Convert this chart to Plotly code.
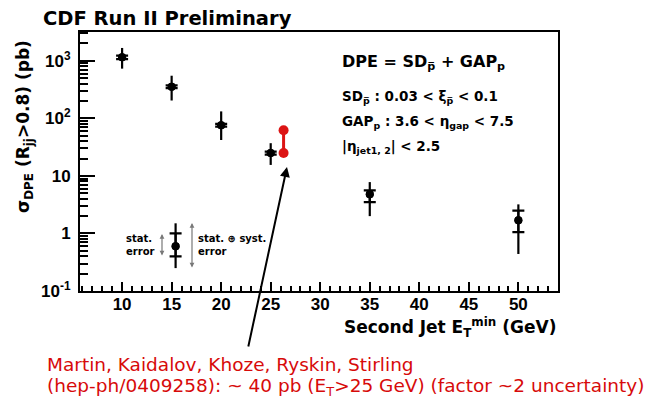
import plotly.graph_objects as go

# ---- data ----
et_min = [10, 15, 20, 25, 35, 50]
sigma = [1150, 355, 76, 25, 4.8, 1.7]
tot_hi = [1670, 550, 132, 37, 7.8, 3.2]
tot_lo = [730, 204, 42, 15.5, 2.0, 0.44]
stat_hi = [1230, 375, 80, 26.5, 5.6, 2.5]
stat_lo = [1070, 335, 72, 23.5, 3.5, 1.05]

theory_x = [26.3, 26.3]
theory_y = [25, 62]

legend_x = [15.4]
legend_y = [0.6]
legend_tot_hi = [1.5]
legend_tot_lo = [0.25]
legend_stat_hi = [1.0]
legend_stat_lo = [0.4]

xtick_vals = [10, 15, 20, 25, 30, 35, 40, 45, 50]
ytick_vals = [0.1, 1, 10, 100, 1000]
ytick_text = ["10<sup>-1</sup>", "1", "10", "10<sup>2</sup>", "10<sup>3</sup>"]


def up(v, hi):
    return [h - a for a, h in zip(v, hi)]


def dn(v, lo):
    return [a - l for a, l in zip(v, lo)]


fig = go.Figure()


def add_points(xs, ys, hi, lo, shi, slo):
    fig.add_trace(go.Scatter(
        x=xs, y=ys, mode="markers",
        marker=dict(color="black", size=8),
        error_y=dict(type="data", symmetric=False, array=up(ys, hi), arrayminus=dn(ys, lo),
                     color="black", thickness=2.2, width=0),
        showlegend=False, cliponaxis=False))
    fig.add_trace(go.Scatter(
        x=xs, y=ys, mode="markers",
        marker=dict(color="black", size=8),
        error_y=dict(type="data", symmetric=False, array=up(ys, shi), arrayminus=dn(ys, slo),
                     color="black", thickness=2.2, width=6),
        showlegend=False, cliponaxis=False))


add_points(et_min, sigma, tot_hi, tot_lo, stat_hi, stat_lo)
add_points(legend_x, legend_y, legend_tot_hi, legend_tot_lo, legend_stat_hi, legend_stat_lo)

fig.add_trace(go.Scatter(
    x=theory_x, y=theory_y, mode="lines+markers",
    line=dict(color="rgb(220,20,20)", width=3),
    marker=dict(color="rgb(220,20,20)", size=10),
    showlegend=False))

minor_vals = []
for d in [0.1, 1, 10, 100, 1000]:
    for k in range(2, 10):
        v = d * k
        if v < 10 ** 3.5:
            minor_vals.append(v)

FONT = "Arial, Liberation Sans, sans-serif"
WIDE = "DejaVu Sans"
tickfont = dict(family=FONT, size=17, color="black", weight="bold")

fig.update_xaxes(range=[5.75, 54], showline=True, linecolor="black", linewidth=2, mirror=True,
                 ticks="inside", ticklen=9, tickwidth=1.5, tickcolor="black",
                 tickvals=xtick_vals, ticklabelstandoff=-3,
                 minor=dict(ticks="inside", ticklen=5, tickcolor="black", dtick=1, tick0=0),
                 showgrid=False, zeroline=False, tickfont=tickfont)
fig.update_yaxes(type="log", range=[-1, 3.5], showline=True, linecolor="black", linewidth=2, mirror=True,
                 ticks="inside", ticklen=15, tickwidth=1.5, tickcolor="black",
                 tickvals=ytick_vals, ticktext=ytick_text, ticklabelstandoff=4,
                 minor=dict(ticks="inside", ticklen=8, tickcolor="black", tickmode="array", tickvals=minor_vals),
                 showgrid=False, zeroline=False, tickfont=tickfont)

# page has an 8px body margin; figure sized so plot area lands at screen 80..558 x 32..291
OFF = 8
W, H = 654 - OFF, 404 - OFF
L, R, T, B = 80, 558, 32, 291


def px(x):
    return (x - L) / (R - L)


def py(y):
    return (B - y) / (B - T)


def note(text, x, y, xanchor="center", size=12, font=None, family=WIDE, **kw):
    f = font if font is not None else dict(family=family, color="black", weight="bold", size=size)
    d = dict(text=text, x=px(x), y=py(y), xref="paper", yref="paper", xanchor=xanchor,
             yanchor="middle", showarrow=False, font=f)
    d.update(kw)
    return d


ann = []
ann.append(note("CDF Run II Preliminary", 167, 18, size=19.5))
ann.append(note("σ<sub>DPE</sub> (R<sub>jj</sub>>0.8) (pb)", 24, 127, size=17, textangle=-90))
ann.append(note("Second Jet E<sub>T</sub><sup>min</sup> (GeV)", 558, 327, xanchor="right", size=17))

ann.append(note("DPE = SD<sub>p̅</sub> + GAP<sub>p</sub>", 340, 62, xanchor="left", size=16))
ann.append(note("SD<sub>p̅</sub> : 0.03 < ξ<sub>p̅</sub> < 0.1", 340, 97, xanchor="left", size=13.5))
ann.append(note("GAP<sub>p</sub> : 3.6 < η<sub>gap</sub> < 7.5", 340, 122, xanchor="left", size=13.5))
ann.append(note("|η<sub>jet1, 2</sub>| < 2.5", 340, 147, xanchor="left", size=13.5))

ann.append(note("stat.<br>error", 157, 245, xanchor="right", size=10, align="left"))
ann.append(note("stat. ⊕ syst.<br>error", 196, 245, xanchor="left", size=10, align="left"))

# gray double arrows
for xx, y0, y1 in [(162, 234, 257), (192, 223, 269)]:
    ann.append(dict(text="", x=px(xx), y=py(y0), xref="paper", yref="paper", ax=0, ay=y1 - y0,
                    showarrow=True, arrowhead=2, arrowside="end+start", arrowsize=0.8,
                    arrowwidth=1.2, arrowcolor="rgb(120,120,120)"))

# pointer arrow
ann.append(dict(text="", x=px(287), y=py(167), xref="paper", yref="paper", ax=248 - 287, ay=348 - 167,
                showarrow=True, arrowhead=2, arrowsize=1, arrowwidth=2, arrowcolor="black"))

red = dict(family="DejaVu Sans", color="rgb(215,10,10)", size=18.5)
ann.append(note("Martin, Kaidalov, Khoze, Ryskin, Stirling", 45, 364, xanchor="left", font=red))
ann.append(note("(hep-ph/0409258): ~ 40 pb (E<sub>T</sub>>25 GeV) (factor ~2 uncertainty)", 45, 387,
                xanchor="left", font=red))

fig.update_layout(width=W, height=H,
                  margin=dict(l=L - OFF, r=W - (R - OFF), t=T - OFF, b=H - (B - OFF)),
                  plot_bgcolor="white", paper_bgcolor="white", annotations=ann)

fig.write_html("out.html")
